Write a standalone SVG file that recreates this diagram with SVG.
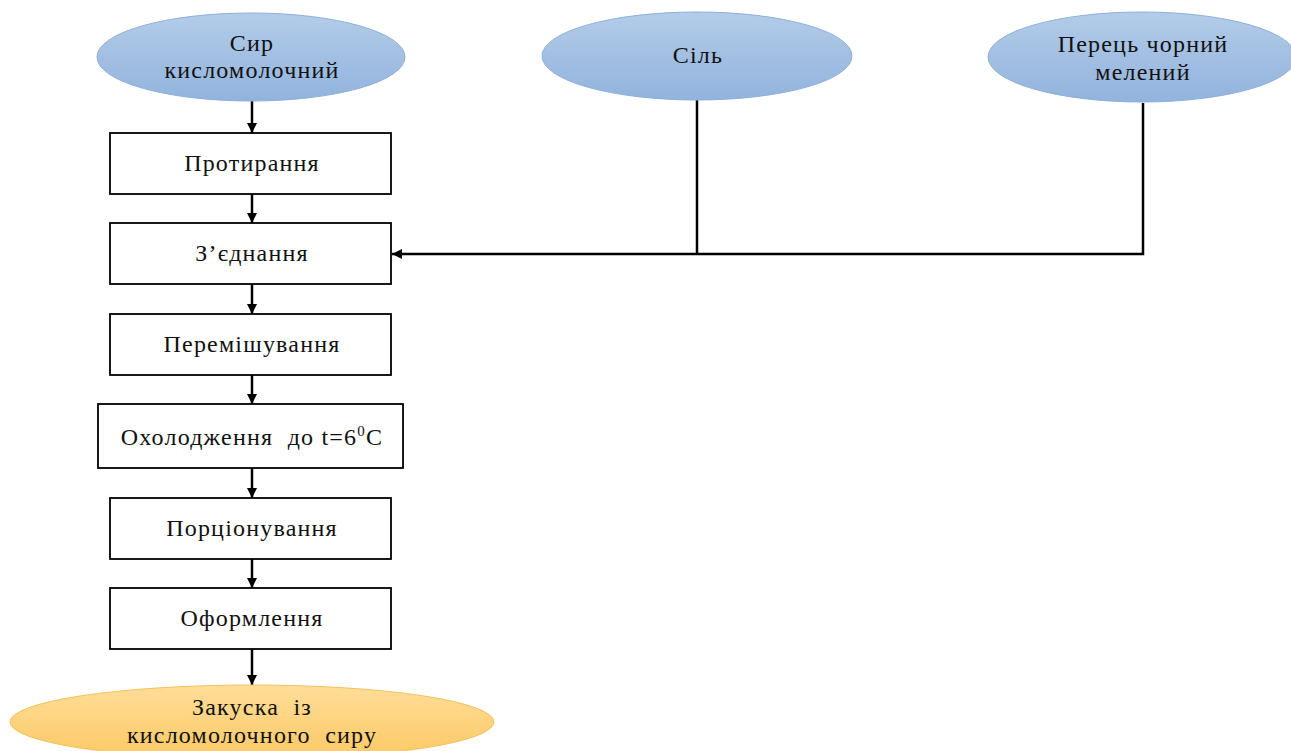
<svg xmlns="http://www.w3.org/2000/svg" width="1291" height="751" viewBox="0 0 1291 751">
<defs>
<linearGradient id="gb" x1="0" y1="0" x2="0" y2="1">
<stop offset="0" stop-color="#b3cce8"/>
<stop offset="1" stop-color="#92b3dd"/>
</linearGradient>
<linearGradient id="go" x1="0" y1="0" x2="0" y2="1">
<stop offset="0" stop-color="#ffdd99"/>
<stop offset="1" stop-color="#fcc965"/>
</linearGradient>
<marker id="ah" viewBox="0 0 10 10" refX="10" refY="5" markerWidth="4" markerHeight="4" orient="auto" markerUnits="strokeWidth">
<path d="M0,0 L10,5 L0,10 Z" fill="#000"/>
</marker>
<style>
.eb{fill:url(#gb);stroke:#8eb0da;stroke-width:1}
.eo{fill:url(#go);stroke:#f5c25c;stroke-width:1}
.bx{fill:#fff;stroke:#000;stroke-width:1.8}
.t{font-family:"Liberation Serif","Times New Roman",serif;font-size:24px;letter-spacing:1.2px;fill:#111;text-anchor:middle;white-space:pre}
.c{fill:none;stroke:#000;stroke-width:2.5}
.ca{fill:none;stroke:#000;stroke-width:2.5;marker-end:url(#ah)}
</style>
</defs>
<rect width="1291" height="751" fill="#fff"/>
<g id="connectors">
<line class="ca" x1="252" y1="101" x2="252" y2="133"/>
<line class="ca" x1="252" y1="194" x2="252" y2="223"/>
<line class="ca" x1="252" y1="284" x2="252" y2="314"/>
<line class="ca" x1="252" y1="375" x2="252" y2="404"/>
<line class="ca" x1="252" y1="468" x2="252" y2="498"/>
<line class="ca" x1="252" y1="559" x2="252" y2="588"/>
<line class="ca" x1="252" y1="649" x2="252" y2="685"/>
<polyline class="c" points="697,100 697,254"/>
<polyline class="ca" points="1143,103 1143,254 392,254"/>
</g>
<g id="n-syr"><ellipse class="eb" cx="251" cy="57" rx="154" ry="44"/><text class="t" x="252" y="51">Сир</text><text class="t" x="252" y="78">кисломолочний</text></g>
<g id="n-sil"><ellipse class="eb" cx="697" cy="56" rx="155" ry="44"/><text class="t" x="698" y="63">Сіль</text></g>
<g id="n-perets"><ellipse class="eb" cx="1142" cy="57" rx="154" ry="45"/><text class="t" x="1143" y="52">Перець чорний</text><text class="t" x="1143" y="80">мелений</text></g>
<g id="n-protyrannia"><rect class="bx" x="110" y="133" width="281" height="61"/><text class="t" x="252" y="171">Протирання</text></g>
<g id="n-ziednannia"><rect class="bx" x="110" y="223" width="281" height="61"/><text class="t" x="252" y="261">З’єднання</text></g>
<g id="n-peremishuvannia"><rect class="bx" x="110" y="314" width="281" height="61"/><text class="t" x="252" y="352">Перемішування</text></g>
<g id="n-okholodzhennia"><rect class="bx" x="98" y="404" width="305" height="64"/><text class="t" x="252" y="445">Охолодження  до t=6<tspan font-size="15" dy="-9">0</tspan><tspan dy="9">С</tspan></text></g>
<g id="n-portsionuvannia"><rect class="bx" x="110" y="498" width="281" height="61"/><text class="t" x="252" y="536">Порціонування</text></g>
<g id="n-oformlennia"><rect class="bx" x="110" y="588" width="281" height="61"/><text class="t" x="252" y="626">Оформлення</text></g>
<g id="n-zakuska"><ellipse class="eo" cx="252" cy="722" rx="242" ry="37"/><text class="t" x="252" y="715">Закуска  із</text><text class="t" x="252" y="743">кисломолочного  сиру</text></g>
</svg>
